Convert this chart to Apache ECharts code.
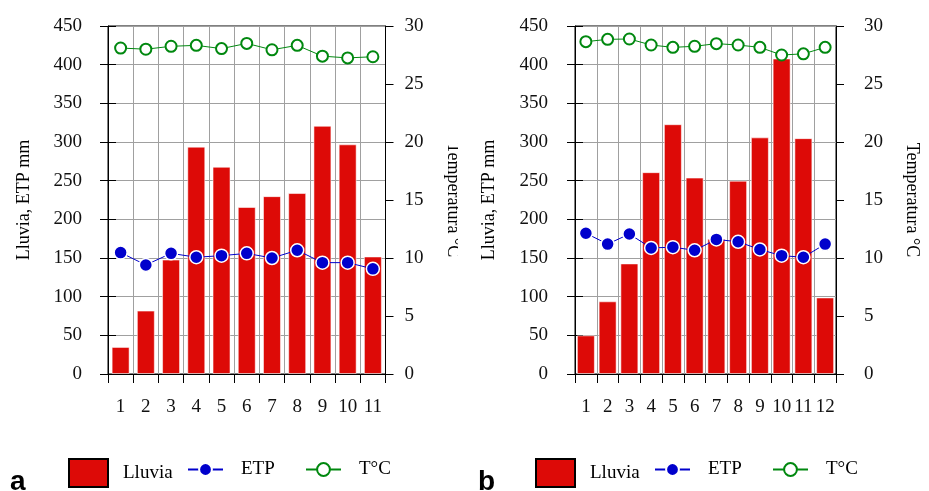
<!DOCTYPE html>
<html lang="es">
<head>
	<meta charset="UTF-8">
	<title>Lluvia, ETP y temperatura</title>
	<script src="https://cdn.jsdelivr.net/npm/echarts@6/dist/echarts.min.js"></script>
	<style>
		html, body { margin: 0; padding: 0; background: #fff; }
		#page { position: relative; width: 929px; height: 491px; overflow: hidden; }
		/* el panel a corta el nombre del eje derecho, como en el original */
		.panel { position: absolute; top: 0; height: 491px; overflow: hidden; }
		#boxA { left: 0; width: 458px; }
		#boxB { left: 466px; width: 463px; }
		.chart { position: absolute; left: 0; top: 0; height: 491px; }
		#chartA { width: 470px; }
		#chartB { width: 463px; }
	</style>
</head>
<body>
<div id="page">
	<div class="panel" id="boxA"><div class="chart" id="chartA"></div></div>
	<div class="panel" id="boxB"><div class="chart" id="chartB"></div></div>
</div>

<script>
    // datos
    var mesesA = ['1', '2', '3', '4', '5', '6', '7', '8', '9', '10', '11'];
    var lluviaA = [35, 82, 148, 294, 268, 216, 230, 234, 321, 297, 152];
    var etpA = [157, 141, 156, 151, 153, 156, 150, 160, 144, 144, 136];
    var tempA = [28.1, 28.0, 28.25, 28.33, 28.05, 28.5, 27.95, 28.33, 27.4, 27.25, 27.35];

    var mesesB = ['1', '2', '3', '4', '5', '6', '7', '8', '9', '10', '11', '12'];
    var lluviaB = [50, 94, 143, 261, 323, 254, 175, 250, 306, 408, 305, 99];
    var etpB = [182, 168, 181, 163, 164, 160, 174, 171, 161, 153, 151, 168];
    var tempB = [28.65, 28.85, 28.88, 28.36, 28.16, 28.25, 28.48, 28.36, 28.16, 27.5, 27.6, 28.16];

    // escalas de los ejes
    var mmMin = 0, mmMax = 450, mmStep = 50;
    var tMin = 0, tMax = 30, tStep = 5;

    var serif = 'Liberation Serif';
    var rojo = '#dd0a07', azul = '#0000cc', verde = '#00880f';

    var grafico = {
        option: function (o) {
            return {
                animation: false,
                grid: {
                    left: o.left, top: 26, width: o.width, height: 348,
                    show: true, borderColor: '#000', borderWidth: 1
                },
                xAxis: {
                    type: 'category',
                    data: o.meses,
                    axisLine: {lineStyle: {color: '#000'}},
                    axisTick: {show: true, length: 9, lineStyle: {color: '#000'}},
                    axisLabel: {interval: 0, margin: 24, fontFamily: serif, fontSize: 19, color: '#111'},
                    splitLine: {show: true, interval: 0, lineStyle: {color: '#a0a0a0'}}
                },
                yAxis: [{
                    type: 'value', min: mmMin, max: mmMax, interval: mmStep,
                    name: 'Lluvia, ETP mm', nameLocation: 'middle', nameGap: o.gapL,
                    nameTextStyle: {fontFamily: serif, fontSize: 18, color: '#000'},
                    axisLine: {show: true, lineStyle: {color: '#000'}},
                    axisTick: {show: true, length: 8, lineStyle: {color: '#000'}},
                    axisLabel: {margin: o.marL, padding: [0, 0, 6, 0], fontFamily: serif, fontSize: 19, color: '#111'},
                    splitLine: {show: true, lineStyle: {color: '#a0a0a0'}}
                }, {
                    type: 'value', min: tMin, max: tMax, interval: tStep, position: 'right',
                    name: 'Temperatura °C', nameLocation: 'middle', nameGap: o.gapR, nameRotate: -90,
                    nameTextStyle: {fontFamily: serif, fontSize: 18, color: '#000'},
                    axisLine: {show: true, lineStyle: {color: '#000'}},
                    axisTick: {show: true, length: 8, lineStyle: {color: '#000'}},
                    axisLabel: {margin: o.marR, padding: [0, 0, 6, 0], fontFamily: serif, fontSize: 19, color: '#111'},
                    splitLine: {show: false}
                }, {
                    // marcas hacia dentro del eje izquierdo (cruzan el eje)
                    type: 'value', min: mmMin, max: mmMax, interval: mmStep, position: 'left',
                    axisLine: {show: false},
                    axisTick: {show: true, inside: true, length: 8, lineStyle: {color: '#000'}},
                    axisLabel: {show: false},
                    splitLine: {show: false}
                }],
                legend: [{
                    left: o.legX, top: 458, padding: 0, itemWidth: 39, itemHeight: 28,
                    textStyle: {fontFamily: serif, fontSize: 19, color: '#000', padding: [0, 0, 12, 10]},
                    data: [{name: 'Lluvia', icon: 'rect', itemStyle: {borderColor: '#000', borderWidth: 2}}]
                }, {
                    left: o.legX + 119, top: 460, padding: 0, itemWidth: 35, itemHeight: 16,
                    textStyle: {fontFamily: serif, fontSize: 19, color: '#000', padding: [0, 0, 2, 13]},
                    data: ['ETP']
                }, {
                    left: o.legX + 237, top: 460, padding: 0, itemWidth: 35, itemHeight: 16,
                    textStyle: {fontFamily: serif, fontSize: 19, color: '#000', padding: [0, 0, 2, 13]},
                    data: ['T°C']
                }],
                graphic: [{
                    type: 'text', left: o.letraX, top: 468,
                    style: {text: o.letra, font: 'bold 28px "Liberation Sans"', fill: '#000'}
                }],
                series: [{
                    name: 'Lluvia', type: 'bar', data: o.lluvia, barWidth: 18,
                    itemStyle: {color: rojo, borderColor: 'rgba(255,255,255,0.55)', borderWidth: 1}
                }, {
                    name: 'ETP', type: 'line', data: o.etp,
                    symbol: 'circle', symbolSize: 13,
                    lineStyle: {color: azul, width: 1},
                    itemStyle: {color: azul, borderColor: '#fff', borderWidth: 1.5}
                }, {
                    name: 'T°C', type: 'line', yAxisIndex: 1, data: o.temp,
                    symbol: 'circle', symbolSize: 11,
                    lineStyle: {color: verde, width: 1},
                    itemStyle: {color: '#fff', borderColor: verde, borderWidth: 2}
                }]
            };
        },
        init: function (id, o) {
            var myChart = echarts.init(document.getElementById(id));
            myChart.setOption(this.option(o));
        }
    };

    grafico.init('chartA', {
        meses: mesesA, lluvia: lluviaA, etp: etpA, temp: tempA,
        left: 108, width: 277.5, gapL: 75, gapR: 58, marL: 26, marR: 19,
        legX: 68, letra: 'a', letraX: 10
    });
    grafico.init('chartB', {
        meses: mesesB, lluvia: lluviaB, etp: etpB, temp: tempB,
        left: 109, width: 269, gapL: 77, gapR: 67, marL: 27, marR: 28,
        legX: 69, letra: 'b', letraX: 12
    });
</script>
</body>
</html>
